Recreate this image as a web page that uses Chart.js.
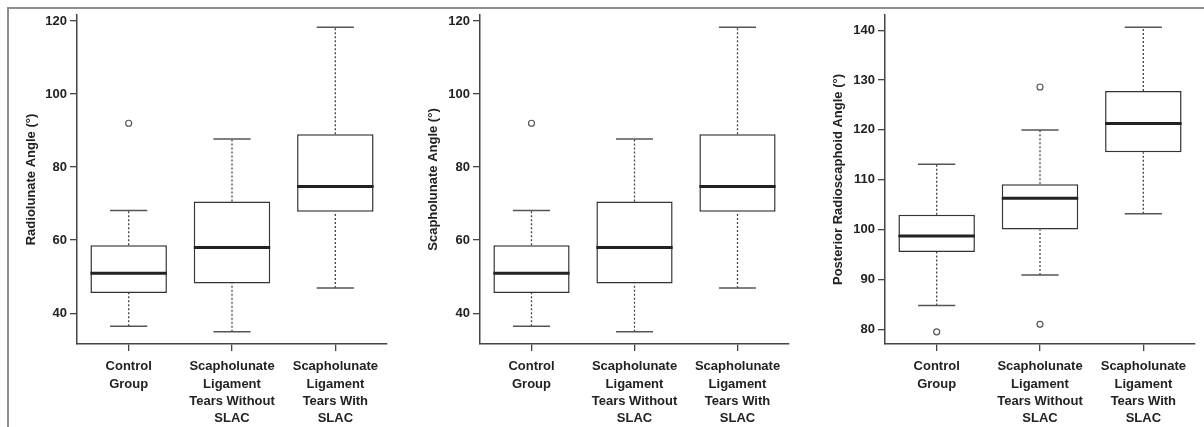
<!DOCTYPE html>
<html>
<head>
<meta charset="utf-8">
<script src="https://cdn.jsdelivr.net/npm/chart.js@4"></script>
<style>
html,body{margin:0;padding:0;background:#fff;}
#wrap{position:relative;width:1204px;height:427px;overflow:hidden;background:#fff;}
#frame{position:absolute;left:7px;top:7px;width:1220px;height:440px;border-top:2px solid #8e8e8e;border-left:2px solid #8e8e8e;}
canvas{position:absolute;top:0;}
</style>
</head>
<body>
<div id="wrap">
  <div id="frame"></div>
  <canvas id="c1" width="390" height="427" style="left:10px"></canvas>
  <canvas id="c2" width="390" height="427" style="left:410px"></canvas>
  <canvas id="c3" width="394" height="427" style="left:810px"></canvas>
</div>
<script>
// ---------- data ----------
const categories = [
  ["Control", "Group"],
  ["Scapholunate", "Ligament", "Tears Without", "SLAC"],
  ["Scapholunate", "Ligament", "Tears With", "SLAC"]
];
const groupPositions = [1, 2, 3];

// Radiolunate angle
const radiolunateLowerWhisker = [36.4, 34.9, 46.9];
const radiolunateQ1 = [45.5, 48.1, 67.8];
const radiolunateMedian = [50.9, 58.0, 74.7];
const radiolunateQ3 = [58.6, 70.6, 89.0];
const radiolunateUpperWhisker = [68.1, 87.7, 118.3];
const radiolunateOutlierGroup = [1];
const radiolunateOutlierValue = [92.0];
const radiolunateTicks = [40, 60, 80, 100, 120];

// Scapholunate angle
const scapholunateLowerWhisker = [36.4, 34.9, 46.9];
const scapholunateQ1 = [45.5, 48.1, 67.8];
const scapholunateMedian = [50.9, 58.0, 74.7];
const scapholunateQ3 = [58.6, 70.6, 89.0];
const scapholunateUpperWhisker = [68.1, 87.7, 118.3];
const scapholunateOutlierGroup = [1];
const scapholunateOutlierValue = [92.0];
const scapholunateTicks = [40, 60, 80, 100, 120];

// Posterior radioscaphoid angle
const radioscaphoidLowerWhisker = [84.8, 90.9, 103.2];
const radioscaphoidQ1 = [95.5, 100.0, 115.5];
const radioscaphoidMedian = [98.7, 106.3, 121.3];
const radioscaphoidQ3 = [103.0, 109.1, 127.8];
const radioscaphoidUpperWhisker = [113.1, 120.0, 140.6];
const radioscaphoidOutlierGroup = [1, 2, 2];
const radioscaphoidOutlierValue = [79.5, 128.6, 81.0];
const radioscaphoidTicks = [80, 90, 100, 110, 120, 130, 140];

// ---------- style ----------
const FONT = "'Liberation Sans', Arial, Helvetica, sans-serif";
const TEXT = '#222';
const AXIS = '#444';
const BOX_WIDTH = 0.74;   // in category units
const CAP_WIDTH = 0.36;

function buildChart(id, p) {
  const n = groupPositions.length;
  const all = [].concat(p.lo, p.hi, p.outV);
  const dmin = Math.min(...all), dmax = Math.max(...all);
  const ext = (dmax - dmin) * 0.04;

  const boxes = [], medians = [], whiskers = [], caps = [], outliers = [];
  for (let i = 0; i < n; i++) {
    const g = groupPositions[i];
    boxes.push({x: g, y: [p.q1[i], p.q3[i]]});
    medians.push({x: g - BOX_WIDTH / 2, y: p.med[i]}, {x: g + BOX_WIDTH / 2, y: p.med[i]}, {x: g + BOX_WIDTH / 2, y: null});
    whiskers.push({x: g, y: p.q3[i]}, {x: g, y: p.hi[i]}, {x: g, y: null},
                  {x: g, y: p.lo[i]}, {x: g, y: p.q1[i]}, {x: g, y: null});
    caps.push({x: g - CAP_WIDTH / 2, y: p.hi[i]}, {x: g + CAP_WIDTH / 2, y: p.hi[i]}, {x: g + CAP_WIDTH / 2, y: null},
              {x: g - CAP_WIDTH / 2, y: p.lo[i]}, {x: g + CAP_WIDTH / 2, y: p.lo[i]}, {x: g + CAP_WIDTH / 2, y: null});
  }
  for (let k = 0; k < p.outG.length; k++) outliers.push({x: p.outG[k], y: p.outV[k]});

  const lineBase = {type: 'line', pointRadius: 0, pointHoverRadius: 0, spanGaps: false, fill: false, tension: 0, borderCapStyle: 'butt'};

  new Chart(document.getElementById(id), {
    type: 'bar',
    data: {
      datasets: [
        Object.assign({}, lineBase, {label: 'median', data: medians, borderColor: '#222', borderWidth: 3, order: 0}),
        {type: 'scatter', label: 'outliers', data: outliers, pointStyle: 'circle', pointRadius: 3, pointBorderWidth: 1.2,
         pointBackgroundColor: '#fff', pointBorderColor: '#555', order: 0},
        {type: 'bar', label: 'box', data: boxes, backgroundColor: '#fff', borderColor: '#333', borderWidth: 1.5,
         borderSkipped: false, barPercentage: BOX_WIDTH, categoryPercentage: 1, order: 1},
        Object.assign({}, lineBase, {label: 'caps', data: caps, borderColor: '#555', borderWidth: 1.5, order: 2}),
        Object.assign({}, lineBase, {label: 'whiskers', data: whiskers, borderColor: '#444', borderWidth: 1.3, borderDash: [2, 2], order: 3})
      ]
    },
    options: {
      responsive: false,
      animation: false,
      events: [],
      layout: {padding: {top: 15, right: p.padRight, left: 0, bottom: 0}},
      plugins: {legend: {display: false}, tooltip: {enabled: false}},
      scales: {
        x: {
          type: 'linear', min: 0.5, max: 3.5, offset: false,
          afterBuildTicks: s => { s.ticks = groupPositions.map(v => ({value: v})); },
          afterFit: s => { s.height = 83; },
          ticks: {
            autoSkip: false, maxRotation: 0, padding: 7, color: TEXT,
            font: {family: FONT, size: 13, weight: 'bold', lineHeight: 1.33},
            callback: v => categories[groupPositions.indexOf(v)]
          },
          grid: {drawOnChartArea: false, offset: false, tickLength: 7, color: AXIS, lineWidth: 1.3},
          border: {display: true, color: AXIS, width: 1.5}
        },
        y: {
          type: 'linear', min: dmin - ext, max: dmax + ext,
          afterBuildTicks: s => { s.ticks = p.ticks.map(v => ({value: v})); },
          afterFit: s => { s.width = p.yWidth; },
          ticks: {padding: 3, color: TEXT, font: {family: FONT, size: 13, weight: 'bold'}, callback: v => String(v)},
          grid: {drawOnChartArea: false, tickLength: 7, color: AXIS, lineWidth: 1.3},
          border: {display: true, color: AXIS, width: 1.5},
          title: {display: true, text: p.title, color: TEXT, font: {family: FONT, size: 13, weight: 'bold'},
                  padding: {top: p.titlePad, bottom: 0}}
        }
      }
    }
  });
}

buildChart('c1', {
  lo: radiolunateLowerWhisker, q1: radiolunateQ1, med: radiolunateMedian, q3: radiolunateQ3, hi: radiolunateUpperWhisker,
  outG: radiolunateOutlierGroup, outV: radiolunateOutlierValue, ticks: radiolunateTicks,
  title: 'Radiolunate Angle (°)', yWidth: 67, padRight: 13, titlePad: 14
});
buildChart('c2', {
  lo: scapholunateLowerWhisker, q1: scapholunateQ1, med: scapholunateMedian, q3: scapholunateQ3, hi: scapholunateUpperWhisker,
  outG: scapholunateOutlierGroup, outV: scapholunateOutlierValue, ticks: scapholunateTicks,
  title: 'Scapholunate Angle (°)', yWidth: 70, padRight: 11, titlePad: 16
});
buildChart('c3', {
  lo: radioscaphoidLowerWhisker, q1: radioscaphoidQ1, med: radioscaphoidMedian, q3: radioscaphoidQ3, hi: radioscaphoidUpperWhisker,
  outG: radioscaphoidOutlierGroup, outV: radioscaphoidOutlierValue, ticks: radioscaphoidTicks,
  title: 'Posterior Radioscaphoid Angle (°)', yWidth: 75, padRight: 9, titlePad: 21
});
</script>
</body>
</html>
